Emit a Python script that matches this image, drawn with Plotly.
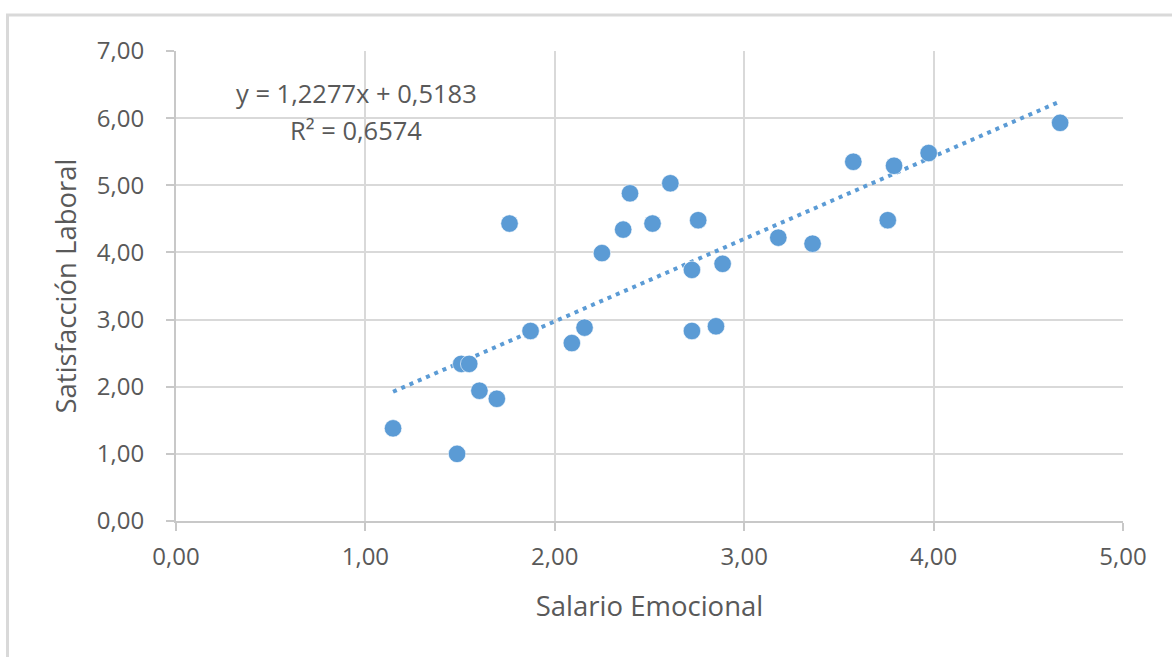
import plotly.graph_objects as go

# Salario Emocional (x) vs Satisfacción Laboral (y)
salario_emocional = [1.146, 1.484, 1.506, 1.548, 1.602, 1.694, 1.761, 1.872, 2.090,
                     2.157, 2.249, 2.361, 2.397, 2.516, 2.610, 2.757, 2.724, 2.724,
                     2.886, 2.851, 3.180, 3.361, 3.576, 3.758, 3.791, 3.974, 4.668]
satisfaccion_laboral = [1.38, 1.00, 2.34, 2.34, 1.94, 1.82, 4.43, 2.83, 2.65,
                        2.88, 3.99, 4.34, 4.88, 4.43, 5.03, 4.48, 3.74, 2.83,
                        3.83, 2.90, 4.22, 4.13, 5.35, 4.48, 5.29, 5.48, 5.93]

# Linear trend line coefficients (shown in the equation label)
pendiente = 1.2277
intercepto = 0.5183
r2 = 0.6574

tick_vals_x = [0, 1, 2, 3, 4, 5]
tick_text_x = ["0,00", "1,00", "2,00", "3,00", "4,00", "5,00"]
tick_vals_y = [0, 1, 2, 3, 4, 5, 6, 7]
tick_text_y = ["0,00", "1,00", "2,00", "3,00", "4,00", "5,00", "6,00", "7,00"]

AZUL = "#5B9BD5"
TEXTO = "#595959"
FUENTE = "Open Sans"
TAM_TICK = 24
TAM_TITULO = 27.5
TAM_ECUACION = 25.5

x_min, x_max = min(salario_emocional), max(salario_emocional)
trend_x = [x_min, x_max]
trend_y = [pendiente * v + intercepto for v in trend_x]

fig = go.Figure()

fig.add_trace(go.Scatter(
    x=trend_x, y=trend_y, mode="lines",
    line=dict(color=AZUL, width=4, dash="4px,5px"),
    hoverinfo="skip", showlegend=False,
))

fig.add_trace(go.Scatter(
    x=salario_emocional, y=satisfaccion_laboral, mode="markers",
    marker=dict(color=AZUL, size=17.5, line=dict(color="rgba(255,255,255,0.6)", width=1)),
    showlegend=False,
))

def fmt(v, n):
    return f"{v:.{n}f}".replace(".", ",")

fig.add_annotation(
    x=0.951, y=6.37, xref="x", yref="y", showarrow=False,
    text=f"y = {fmt(pendiente, 4)}x + {fmt(intercepto, 4)}",
    font=dict(family=FUENTE, size=TAM_ECUACION, color=TEXTO),
)
fig.add_annotation(
    x=0.951, y=5.83, xref="x", yref="y", showarrow=False,
    text=f"R² = {fmt(r2, 4)}",
    font=dict(family=FUENTE, size=TAM_ECUACION, color=TEXTO),
)

# Outer chart frame
fig.add_shape(
    type="rect", xref="paper", yref="paper",
    x0=(7.5 - 176) / 947, x1=(1300 - 176) / 947,
    y0=(521 - 800) / 470, y1=(521 - 15) / 470,
    line=dict(color="#d9d9d9", width=3), layer="below",
)

axis_common = dict(
    showgrid=True, gridcolor="#d9d9d9", gridwidth=2,
    showline=True, linecolor="#c8c8c8", linewidth=2,
    ticks="outside", ticklen=8, tickcolor="#c8c8c8", tickwidth=2,
    zeroline=False,
    tickfont=dict(family=FUENTE, size=TAM_TICK, color=TEXTO),
)

fig.update_xaxes(
    range=[0, 5], tickvals=tick_vals_x, ticktext=tick_text_x,
    title=dict(text="Salario Emocional", font=dict(family=FUENTE, size=TAM_TITULO, color=TEXTO), standoff=26),
    ticklabelstandoff=5,
    **axis_common,
)
fig.update_yaxes(
    range=[0, 7], tickvals=tick_vals_y, ticktext=tick_text_y,
    title=dict(text="Satisfacción Laboral", font=dict(family=FUENTE, size=TAM_TITULO, color=TEXTO), standoff=12),
    ticklabelstandoff=17,
    **axis_common,
)

fig.update_layout(
    width=1172, height=657,
    margin=dict(l=176, r=49, t=51, b=136),
    paper_bgcolor="white", plot_bgcolor="white",
    font=dict(family=FUENTE, color=TEXTO),
)

fig.write_html("out.html")
